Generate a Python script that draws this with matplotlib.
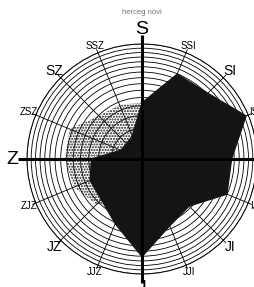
import numpy as np
import matplotlib.pyplot as plt

plt.rcParams['font.family'] = ['Liberation Sans', 'DejaVu Sans']

# smjerovi vjetra, od sjevera u smjeru kazaljke
directions = ['S', 'SSI', 'SI', 'ISI', 'I', 'IJI', 'JI', 'JJI',
              'J', 'JJZ', 'JZ', 'ZJZ', 'Z', 'ZSZ', 'SZ', 'SSZ']
# tamni poligon (ocitano sa slike, 10 = vanjski krug)
dark_values = [4.9, 8.0, 8.1, 9.8, 7.8, 8.0, 5.8, 6.3,
               8.5, 6.1, 5.0, 4.9, 4.4, 2.0, 1.9, 2.2]
# svijetli (tockasti) poligon
light_values = [4.9, 5.0, 4.5, 4.0, 3.5, 3.5, 3.0, 3.0,
                3.0, 4.2, 5.6, 6.4, 6.7, 6.8, 5.3, 5.1]
n_rings = 14
title = 'herceg novi'

cardinal = {'S', 'I', 'J', 'Z'}
medium = {'SI', 'SZ', 'JI', 'JZ'}

theta = np.deg2rad(np.arange(len(directions)) * 22.5)
theta_closed = np.append(theta, theta[0])

fig = plt.figure(figsize=(2.54, 2.87), dpi=100)
ax = fig.add_axes([27 / 254, 13 / 287, 230 / 254, 230 / 287], projection='polar')
ax.set_theta_zero_location('N')
ax.set_theta_direction(-1)

# tockasti sloj
ax.fill(theta_closed, np.append(light_values, light_values[0]),
        facecolor='none', edgecolor='0.1', hatch='......', linewidth=0, zorder=2)
# tamni sloj
ax.fill(theta_closed, np.append(dark_values, dark_values[0]),
        facecolor='#141414', edgecolor='#141414', linewidth=0.8, zorder=3)

# prstenovi (jednake povrsine) i zrake
ax.set_ylim(0, 10)
ax.set_yticks(10 * np.sqrt(np.arange(1, n_rings + 1) / n_rings))
ax.set_yticklabels([])
ax.set_xticks(theta)
ax.set_xticklabels([])
ax.grid(True, color='black', lw=0.6)
ax.spines['polar'].set_linewidth(0.7)
ax.set_axisbelow(True)

for i, d in enumerate(directions):
    if d in cardinal:
        # debele osi za glavne smjerove
        ax.plot([theta[i], theta[i]], [0, 10.8], color='black', lw=2.2,
                zorder=5, clip_on=False, solid_capstyle='butt')
    else:
        ax.plot([theta[i], theta[i]], [10, 10.3], color='black', lw=0.6,
                zorder=1, clip_on=False)

# natpisi smjerova
for i, d in enumerate(directions):
    if d in cardinal:
        r, fs = 11.3, 14
    elif d in medium:
        r, fs = 10.8, 10
    else:
        r, fs = 10.65, 7
    ax.text(theta[i], r, d, fontsize=fs, ha='center', va='center',
            clip_on=False, zorder=6)

fig.text(142 / 254, 1 - 12 / 287, title, fontsize=5.5, color='0.45',
         ha='center', va='center')

fig.savefig('out.png', dpi=100)
